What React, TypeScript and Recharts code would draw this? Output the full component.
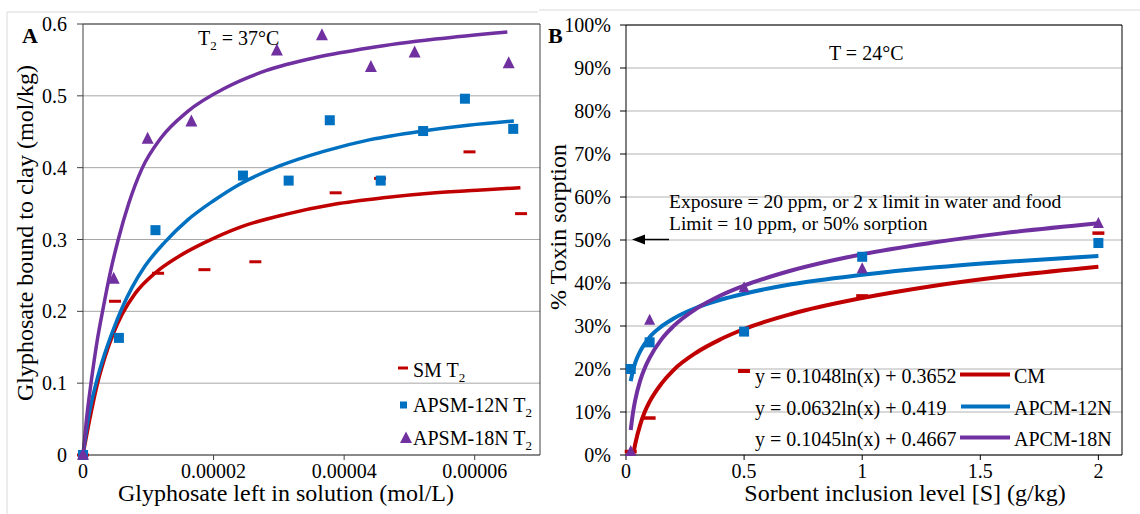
import React from 'react';
import { ComposedChart, Line, Scatter, XAxis, YAxis, CartesianGrid, ReferenceLine } from 'recharts';

// Panel A: glyphosate bound vs left in solution (T2 = 37°C)
const smPoints = [
  { x: 0, y: 0 }, { x: 0.0000049, y: 0.214 }, { x: 0.0000115, y: 0.253 }, { x: 0.0000186, y: 0.258 },
  { x: 0.0000264, y: 0.269 }, { x: 0.0000387, y: 0.365 }, { x: 0.0000455, y: 0.385 },
  { x: 0.0000592, y: 0.422 }, { x: 0.0000671, y: 0.336 },
];
const apsm12Points = [
  { x: 0, y: 0 }, { x: 0.0000055, y: 0.163 }, { x: 0.0000111, y: 0.313 }, { x: 0.0000245, y: 0.389 },
  { x: 0.0000315, y: 0.382 }, { x: 0.0000378, y: 0.466 }, { x: 0.0000456, y: 0.382 },
  { x: 0.0000521, y: 0.451 }, { x: 0.0000585, y: 0.496 }, { x: 0.0000659, y: 0.454 },
];
const apsm18Points = [
  { x: 0, y: 0 }, { x: 0.0000047, y: 0.245 }, { x: 0.0000099, y: 0.44 }, { x: 0.0000166, y: 0.464 },
  { x: 0.0000297, y: 0.563 }, { x: 0.0000366, y: 0.584 }, { x: 0.0000441, y: 0.54 },
  { x: 0.0000508, y: 0.56 }, { x: 0.0000652, y: 0.545 },
];
// fitted curves
const smFit = [
  { x: 0, y: 0 }, { x: 0.000001, y: 0.048 }, { x: 0.0000021, y: 0.095 }, { x: 0.0000034, y: 0.137 },
  { x: 0.0000046, y: 0.168 }, { x: 0.000006, y: 0.196 }, { x: 0.000008, y: 0.225 }, { x: 0.000011, y: 0.253 },
  { x: 0.0000146, y: 0.276 }, { x: 0.0000187, y: 0.296 }, { x: 0.000024, y: 0.317 }, { x: 0.000031, y: 0.335 },
  { x: 0.0000385, y: 0.349 }, { x: 0.000046, y: 0.358 }, { x: 0.000054, y: 0.365 }, { x: 0.000061, y: 0.369 },
  { x: 0.000067, y: 0.372 },
];
const apsm12Fit = [
  { x: 0, y: 0 }, { x: 0.0000008, y: 0.05 }, { x: 0.000002, y: 0.1 }, { x: 0.0000034, y: 0.143 },
  { x: 0.0000047, y: 0.176 }, { x: 0.000006, y: 0.205 }, { x: 0.0000075, y: 0.233 }, { x: 0.0000095, y: 0.263 },
  { x: 0.0000125, y: 0.296 }, { x: 0.000016, y: 0.327 }, { x: 0.00002, y: 0.354 }, { x: 0.000024, y: 0.377 },
  { x: 0.00003, y: 0.402 }, { x: 0.000037, y: 0.423 }, { x: 0.000044, y: 0.439 }, { x: 0.000052, y: 0.451 },
  { x: 0.000059, y: 0.459 }, { x: 0.000066, y: 0.465 },
];
const apsm18Fit = [
  { x: 0, y: 0 }, { x: 0.0000006, y: 0.055 }, { x: 0.0000013, y: 0.105 }, { x: 0.0000021, y: 0.155 },
  { x: 0.0000031, y: 0.205 }, { x: 0.0000042, y: 0.255 }, { x: 0.0000054, y: 0.3 }, { x: 0.000007, y: 0.35 },
  { x: 0.000009, y: 0.398 }, { x: 0.000012, y: 0.442 }, { x: 0.000016, y: 0.478 }, { x: 0.000022, y: 0.512 },
  { x: 0.000028, y: 0.535 }, { x: 0.000036, y: 0.554 }, { x: 0.000044, y: 0.567 }, { x: 0.000054, y: 0.579 },
  { x: 0.000065, y: 0.589 },
];
const aXTicks = [0, 0.00002, 0.00004, 0.00006];
const aYTicks = [0, 0.1, 0.2, 0.3, 0.4, 0.5, 0.6];

// Panel B: % toxin sorption vs sorbent inclusion (T = 24°C)
const cmPoints = [{ x: 0.02, y: 0.008 }, { x: 0.1, y: 0.086 }, { x: 1, y: 0.37 }, { x: 2, y: 0.516 }];
const apcm12Points = [
  { x: 0.02, y: 0.2 }, { x: 0.1, y: 0.262 }, { x: 0.5, y: 0.287 }, { x: 1, y: 0.461 }, { x: 2, y: 0.493 },
];
const apcm18Points = [
  { x: 0.02, y: 0.008 }, { x: 0.1, y: 0.313 }, { x: 0.5, y: 0.389 }, { x: 1, y: 0.433 }, { x: 2, y: 0.538 },
];
const bFitX = [0.02, 0.03, 0.04, 0.06, 0.08, 0.1, 0.15, 0.2, 0.3, 0.4, 0.5, 0.7, 1, 1.3, 1.6, 2];
const cmFitY = [null, 0.0, 0.028, 0.07, 0.101, 0.124, 0.166, 0.197, 0.239, 0.269, 0.293, 0.328, 0.365, 0.393, 0.415, 0.438];
const apcm12FitY = [0.172, 0.197, 0.216, 0.241, 0.259, 0.274, 0.299, 0.317, 0.343, 0.361, 0.375, 0.397, 0.419, 0.436, 0.449, 0.463];
const apcm18FitY = [0.058, 0.1, 0.13, 0.173, 0.203, 0.226, 0.269, 0.299, 0.341, 0.371, 0.394, 0.429, 0.467, 0.494, 0.516, 0.539];
const bXTicks = [0, 0.5, 1, 1.5, 2];
const bYTicks = [0, 0.1, 0.2, 0.3, 0.4, 0.5, 0.6, 0.7, 0.8, 0.9, 1];

const toPts = (ys: (number | null)[]) =>
  bFitX.map((x, i) => ({ x, y: ys[i] })).filter((p) => p.y !== null);

const RED = '#c00000';
const BLUE = '#0070c0';
const PURPLE = '#7030a0';
const FONT = '"Liberation Serif", "Times New Roman", serif';

const dash = (color: string, w: number, h: number) => (p: any) =>
  <rect x={p.cx - w / 2} y={p.cy - h / 2} width={w} height={h} fill={color} />;
const square = (color: string, s: number) => (p: any) =>
  <rect x={p.cx - s / 2} y={p.cy - s / 2} width={s} height={s} fill={color} />;
const triangle = (color: string, s: number) => (p: any) =>
  <polygon points={`${p.cx},${p.cy - s * 0.6} ${p.cx - s / 2},${p.cy + s * 0.4} ${p.cx + s / 2},${p.cy + s * 0.4}`} fill={color} />;

const tickStyle = { fontSize: 20, fill: '#000', fontFamily: FONT };

const PanelA = () => (
  <ComposedChart width={560} height={514} margin={{ top: 24, right: 20, left: 0, bottom: 0 }}>
    <CartesianGrid horizontal vertical={false} stroke="#a6a6a6" strokeWidth={1} />
    <XAxis
      type="number" dataKey="x" domain={[0, 0.00007]} ticks={aXTicks} interval={0} height={59}
      tickFormatter={(v: number) => (v === 0 ? '0' : v.toFixed(5))}
      tick={tickStyle} tickSize={5} tickMargin={4}
      axisLine={{ stroke: '#404040' }} tickLine={{ stroke: '#404040' }}
    />
    <YAxis
      type="number" domain={[0, 0.6]} ticks={aYTicks} interval={0} width={83}
      tickFormatter={(v: number) => (v === 0 ? '0' : v.toFixed(1))}
      tick={tickStyle} tickSize={6} tickMargin={10}
      axisLine={{ stroke: '#404040' }} tickLine={{ stroke: '#404040' }}
    />
    <ReferenceLine y={0.6} stroke="#404040" />
    <ReferenceLine x={0.00007} stroke="#404040" />
    <Scatter data={smPoints} dataKey="y" shape={dash(RED, 12, 3)} isAnimationActive={false} />
    <Scatter data={apsm12Points} dataKey="y" shape={square(BLUE, 10)} isAnimationActive={false} />
    <Scatter data={apsm18Points} dataKey="y" shape={triangle(PURPLE, 12)} isAnimationActive={false} />
    <Line data={smFit} dataKey="y" type="monotone" stroke={RED} strokeWidth={3.5} dot={false} isAnimationActive={false} />
    <Line data={apsm12Fit} dataKey="y" type="monotone" stroke={BLUE} strokeWidth={3.5} dot={false} isAnimationActive={false} />
    <Line data={apsm18Fit} dataKey="y" type="monotone" stroke={PURPLE} strokeWidth={3.5} dot={false} isAnimationActive={false} />
  </ComposedChart>
);

const PanelB = () => (
  <ComposedChart width={600} height={514} margin={{ top: 25, right: 18, left: 0, bottom: 0 }}>
    <CartesianGrid horizontal vertical={false} stroke="#d9d9d9" strokeWidth={2} />
    <XAxis
      type="number" dataKey="x" domain={[0, 2.1]} ticks={bXTicks} interval={0} height={59}
      tickFormatter={(v: number) => String(v)}
      tick={tickStyle} tickSize={5} tickMargin={4}
      axisLine={{ stroke: '#000' }} tickLine={{ stroke: '#000' }}
    />
    <YAxis
      type="number" domain={[0, 1]} ticks={bYTicks} interval={0} width={86}
      tickFormatter={(v: number) => `${Math.round(v * 100)}%`}
      tick={tickStyle} tickSize={6} tickMargin={9}
      axisLine={{ stroke: '#000' }} tickLine={{ stroke: '#000' }}
    />
    <ReferenceLine y={1} stroke="#000" />
    <ReferenceLine x={2.1} stroke="#000" />
    <Scatter data={cmPoints} dataKey="y" shape={dash(RED, 12, 3.5)} isAnimationActive={false} />
    <Scatter data={apcm12Points} dataKey="y" shape={square(BLUE, 10)} isAnimationActive={false} />
    <Scatter data={apcm18Points} dataKey="y" shape={triangle(PURPLE, 11)} isAnimationActive={false} />
    <Line data={toPts(cmFitY)} dataKey="y" type="monotone" stroke={RED} strokeWidth={4} dot={false} isAnimationActive={false} />
    <Line data={toPts(apcm12FitY)} dataKey="y" type="monotone" stroke={BLUE} strokeWidth={4} dot={false} isAnimationActive={false} />
    <Line data={toPts(apcm18FitY)} dataKey="y" type="monotone" stroke={PURPLE} strokeWidth={4} dot={false} isAnimationActive={false} />
  </ComposedChart>
);

const Sub2 = () => <tspan fontSize={13} dy={5}>2</tspan>;

const Overlay = () => (
  <svg width={1140} height={514} style={{ position: 'absolute', left: 0, top: 0, pointerEvents: 'none' }}
    fontFamily={FONT} fill="#000">
    {/* chart area frames */}
    <polyline points="7,520 7,12 538,12" fill="none" stroke="#d9d9d9" />
    <line x1={539} y1={10} x2={1140} y2={10} stroke="#d9d9d9" />

    {/* panel A texts */}
    <text x={22} y={43} fontSize={22} fontWeight="bold">A</text>
    <text x={198} y={45} fontSize={20}>T<Sub2 /><tspan dy={-5}> = 37°C</tspan></text>
    <text x={286} y={501} fontSize={24} textAnchor="middle">Glyphosate left in solution (mol/L)</text>
    <text x={33} y={233} fontSize={24} textAnchor="middle" transform="rotate(-90 33 233)">
      Glyphosate bound to clay (mol/kg)
    </text>
    {/* panel A legend */}
    <rect x={398} y={366.5} width={10} height={3} fill={RED} />
    <text x={413} y={377} fontSize={20}>SM T<Sub2 /></text>
    <rect x={400} y={401.5} width={7} height={7} fill={BLUE} />
    <text x={413} y={411.5} fontSize={20}>APSM-12N T<Sub2 /></text>
    <polygon points="406,431.5 400,443 412,443" fill={PURPLE} />
    <text x={413} y={445} fontSize={20}>APSM-18N T<Sub2 /></text>

    {/* panel B texts */}
    <text x={548} y={43} fontSize={22} fontWeight="bold">B</text>
    <text x={829} y={60} fontSize={20}>T = 24°C</text>
    <text x={669} y={208} fontSize={19.5}>Exposure = 20 ppm, or 2 x limit in water and food</text>
    <text x={669} y={230} fontSize={19.5}>Limit = 10 ppm, or 50% sorption</text>
    <line x1={644} y1={239.5} x2={669} y2={239.5} stroke="#000" strokeWidth={1.5} />
    <polygon points="632,239.5 645,234.5 645,244.5" fill="#000" />
    <text x={905} y={501} fontSize={24} textAnchor="middle">Sorbent inclusion level [S] (g/kg)</text>
    <text x={566} y={227} fontSize={24} textAnchor="middle" transform="rotate(-90 566 227)">% Toxin sorption</text>
    {/* panel B legend */}
    <rect x={738} y={369} width={12} height={4} fill={RED} />
    <text x={755} y={383} fontSize={20}>y = 0.1048ln(x) + 0.3652</text>
    <line x1={960} y1={374.5} x2={1010} y2={374.5} stroke={RED} strokeWidth={4} />
    <text x={1014} y={383} fontSize={20}>CM</text>
    <text x={755} y={414.5} fontSize={20}>y = 0.0632ln(x) + 0.419</text>
    <line x1={961} y1={406.5} x2={1010} y2={406.5} stroke={BLUE} strokeWidth={4} />
    <text x={1014} y={414.5} fontSize={20}>APCM-12N</text>
    <text x={755} y={446} fontSize={20}>y = 0.1045ln(x) + 0.4667</text>
    <line x1={960} y1={437.5} x2={1010} y2={437.5} stroke={PURPLE} strokeWidth={4} />
    <text x={1014} y={446} fontSize={20}>APCM-18N</text>
  </svg>
);

export default function App() {
  return (
    <div style={{ position: 'absolute', left: 0, top: 0, width: 1140, height: 514, background: '#fff', overflow: 'hidden' }}>
      <div style={{ position: 'absolute', left: 0, top: 0 }}>
        <PanelA />
      </div>
      <div style={{ position: 'absolute', left: 540, top: 0 }}>
        <PanelB />
      </div>
      <Overlay />
    </div>
  );
}
